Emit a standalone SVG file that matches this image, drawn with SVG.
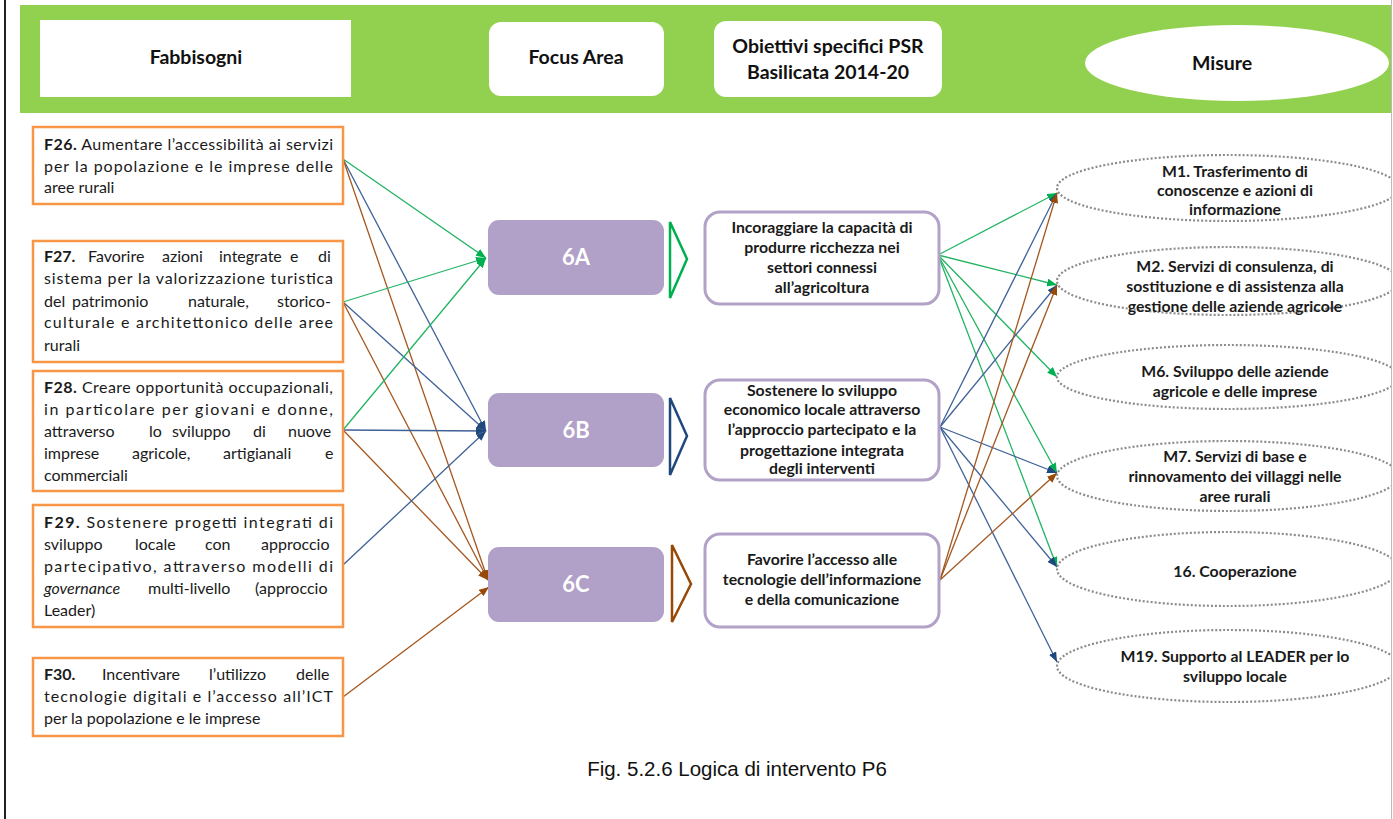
<svg xmlns="http://www.w3.org/2000/svg" width="1393" height="819" viewBox="0 0 1393 819">
<defs>
<style>
.ft{font-family:Lato,"Liberation Sans",sans-serif;font-size:16px;fill:#1a1a1a}
.b{font-weight:bold}
.hd{font-family:Lato,"Liberation Sans",sans-serif;font-size:19.5px;font-weight:bold;fill:#111;text-anchor:middle}
.ob{font-family:Lato,"Liberation Sans",sans-serif;font-size:15.8px;font-weight:bold;fill:#1a1a1a;text-anchor:middle}
.fa{font-family:Lato,"Liberation Sans",sans-serif;font-size:22px;font-weight:bold;fill:#fff;text-anchor:middle}
.fbox{fill:#fff;stroke:#F79646;stroke-width:2.5}
.pbox{fill:#B1A0C7}
.obox{fill:#fff;stroke:#B3A2C7;stroke-width:3}
.mel{fill:#fff;stroke:#8c8c8c;stroke-width:2.2;stroke-dasharray:2 2}
.g{stroke:#22B463;stroke-width:1.3;fill:none;marker-end:url(#ag)}
.bl{stroke:#3F6298;stroke-width:1.3;fill:none;marker-end:url(#ab)}
.br{stroke:#A3571F;stroke-width:1.3;fill:none;marker-end:url(#ar)}
</style>
<marker id="ag" viewBox="0 0 10 8" refX="10" refY="4" markerWidth="10" markerHeight="8" markerUnits="userSpaceOnUse" orient="auto"><path d="M0,0 L10,4 L0,8 Z" fill="#00B050"/></marker>
<marker id="ab" viewBox="0 0 10 8" refX="10" refY="4" markerWidth="10" markerHeight="8" markerUnits="userSpaceOnUse" orient="auto"><path d="M0,0 L10,4 L0,8 Z" fill="#1F497D"/></marker>
<marker id="ar" viewBox="0 0 10 8" refX="10" refY="4" markerWidth="10" markerHeight="8" markerUnits="userSpaceOnUse" orient="auto"><path d="M0,0 L10,4 L0,8 Z" fill="#984807"/></marker>
<clipPath id="clip"><rect x="0" y="0" width="1391" height="819"/></clipPath>
</defs>
<rect width="1393" height="819" fill="#fff"/>
<line x1="5" y1="0" x2="5" y2="819" stroke="#222" stroke-width="2"/>
<line x1="1391.5" y1="0" x2="1391.5" y2="819" stroke="#bbb" stroke-width="1"/>

<g clip-path="url(#clip)">
<g id="header">
<rect x="20" y="5" width="1373" height="108" fill="#92D050"/>
<rect x="40" y="20" width="311" height="77" fill="#fff"/>
<text class="hd" x="196" y="64">Fabbisogni</text>
<rect x="489" y="22" width="175" height="74" rx="12" fill="#fff"/>
<text class="hd" x="576" y="64">Focus Area</text>
<rect x="714" y="21" width="228" height="76" rx="12" fill="#fff"/>
<text class="hd" x="828" y="53">Obiettivi specifici PSR</text>
<text class="hd" x="828" y="79">Basilicata 2014-20</text>
<ellipse cx="1237" cy="63" rx="152" ry="38" fill="#fff"/>
<text class="hd" x="1222" y="70">Misure</text>
</g>

<g id="connectors">
<line class="g" x1="343" y1="159" x2="486" y2="258"/>
<line class="bl" x1="343" y1="159" x2="486" y2="431"/>
<line class="br" x1="343" y1="159" x2="488" y2="580"/>
<line class="g" x1="343" y1="302" x2="486" y2="258"/>
<line class="bl" x1="343" y1="302" x2="486" y2="431"/>
<line class="br" x1="343" y1="302" x2="488" y2="580"/>
<line class="g" x1="343" y1="430" x2="486" y2="258"/>
<line class="bl" x1="343" y1="430" x2="486" y2="431"/>
<line class="br" x1="343" y1="430" x2="488" y2="580"/>
<line class="bl" x1="343" y1="565" x2="486" y2="431"/>
<line class="br" x1="343" y1="697" x2="489" y2="587"/>

<line class="g" x1="938" y1="255" x2="1057" y2="193"/>
<line class="g" x1="938" y1="255" x2="1057" y2="285"/>
<line class="g" x1="938" y1="255" x2="1057" y2="377"/>
<line class="g" x1="938" y1="255" x2="1057" y2="473"/>
<line class="g" x1="938" y1="255" x2="1057" y2="567"/>
<line class="bl" x1="940" y1="427" x2="1057" y2="193"/>
<line class="bl" x1="940" y1="427" x2="1057" y2="285"/>
<line class="bl" x1="940" y1="427" x2="1057" y2="473"/>
<line class="bl" x1="940" y1="427" x2="1057" y2="567"/>
<line class="bl" x1="940" y1="427" x2="1057" y2="662"/>
<line class="br" x1="940" y1="580" x2="1057" y2="193"/>
<line class="br" x1="940" y1="580" x2="1057" y2="285"/>
<line class="br" x1="940" y1="580" x2="1057" y2="473"/>
</g>

<g id="F26">
<rect class="fbox" x="33" y="127" width="310" height="77"/>
<text class="ft" x="44" y="150" textLength="289" lengthAdjust="spacing"><tspan class="b">F26.</tspan> Aumentare l’accessibilità ai servizi</text>
<text class="ft" x="44" y="172" textLength="289" lengthAdjust="spacing">per la popolazione e le imprese delle</text>
<text class="ft" x="44" y="193">aree rurali</text>
</g>
<g id="F27">
<rect class="fbox" x="33" y="241" width="310" height="121"/>
<text class="ft" x="44" y="262"><tspan class="b">F27.</tspan><tspan x="88">Favorire</tspan><tspan x="162">azioni</tspan><tspan x="219">integrate</tspan><tspan x="290">e</tspan><tspan x="318">di</tspan></text>
<text class="ft" x="44" y="284" textLength="289" lengthAdjust="spacing">sistema per la valorizzazione turistica</text>
<text class="ft" x="44" y="307">del<tspan x="72">patrimonio</tspan><tspan x="188">naturale,</tspan><tspan x="277">storico-</tspan></text>
<text class="ft" x="44" y="328" textLength="289" lengthAdjust="spacing">culturale e architettonico delle aree</text>
<text class="ft" x="44" y="351">rurali</text>
</g>
<g id="F28">
<rect class="fbox" x="33" y="371" width="310" height="120"/>
<text class="ft" x="44" y="393" textLength="289" lengthAdjust="spacing"><tspan class="b">F28.</tspan> Creare opportunità occupazionali,</text>
<text class="ft" x="44" y="415" textLength="289" lengthAdjust="spacing">in particolare per giovani e donne,</text>
<text class="ft" x="44" y="437">attraverso<tspan x="149">lo</tspan><tspan x="172">sviluppo</tspan><tspan x="253">di</tspan><tspan x="288">nuove</tspan></text>
<text class="ft" x="44" y="459">imprese<tspan x="132">agricole,</tspan><tspan x="223">artigianali</tspan><tspan x="325">e</tspan></text>
<text class="ft" x="44" y="481">commerciali</text>
</g>
<g id="F29">
<rect class="fbox" x="33" y="505" width="310" height="122"/>
<text class="ft" x="44" y="528" textLength="289" lengthAdjust="spacing"><tspan class="b">F29.</tspan> Sostenere progetti integrati di</text>
<text class="ft" x="44" y="550">sviluppo<tspan x="135">locale</tspan><tspan x="205">con</tspan><tspan x="261">approccio</tspan></text>
<text class="ft" x="44" y="572" textLength="289" lengthAdjust="spacing">partecipativo, attraverso modelli di</text>
<text class="ft" x="44" y="594"><tspan font-style="italic">governance</tspan><tspan x="148">multi-livello</tspan><tspan x="255">(approccio</tspan></text>
<text class="ft" x="44" y="616">Leader)</text>
</g>
<g id="F30">
<rect class="fbox" x="33" y="658" width="310" height="78"/>
<text class="ft" x="44" y="680"><tspan class="b">F30.</tspan><tspan x="102">Incentivare</tspan><tspan x="209">l’utilizzo</tspan><tspan x="296">delle</tspan></text>
<text class="ft" x="44" y="702" textLength="289" lengthAdjust="spacing">tecnologie digitali e l’accesso all’ICT</text>
<text class="ft" x="44" y="724">per la popolazione  e le imprese</text>
</g>

<g id="FA6A">
<rect class="pbox" x="488" y="220" width="176" height="75" rx="11"/>
<text class="fa" x="576" y="265">6A</text>
<polygon points="670,222 687,259 670,298" fill="none" stroke="#00B050" stroke-width="2.5"/>
</g>
<g id="FA6B">
<rect class="pbox" x="488" y="393" width="176" height="74" rx="11"/>
<text class="fa" x="576" y="438">6B</text>
<polygon points="670,398 687,436 670,475" fill="none" stroke="#1F497D" stroke-width="2.5"/>
</g>
<g id="FA6C">
<rect class="pbox" x="488" y="547" width="176" height="75" rx="11"/>
<text class="fa" x="576" y="592">6C</text>
<polygon points="672,545 691,584 672,622" fill="none" stroke="#984807" stroke-width="2.5"/>
</g>

<g id="OB1">
<rect class="obox" x="705" y="212" width="234" height="92" rx="15"/>
<text class="ob" x="822" y="233">Incoraggiare la capacità di</text>
<text class="ob" x="822" y="253">produrre ricchezza nei</text>
<text class="ob" x="822" y="273">settori connessi</text>
<text class="ob" x="822" y="293">all’agricoltura</text>
</g>
<g id="OB2">
<rect class="obox" x="705" y="380" width="234" height="100" rx="15"/>
<text class="ob" x="822" y="396">Sostenere lo sviluppo</text>
<text class="ob" x="822" y="415">economico locale attraverso</text>
<text class="ob" x="822" y="435">l’approccio partecipato e la</text>
<text class="ob" x="822" y="456">progettazione integrata</text>
<text class="ob" x="822" y="474">degli interventi</text>
</g>
<g id="OB3">
<rect class="obox" x="705" y="534" width="234" height="93" rx="15"/>
<text class="ob" x="822" y="565">Favorire l’accesso alle</text>
<text class="ob" x="822" y="585">tecnologie dell’informazione</text>
<text class="ob" x="822" y="605">e della comunicazione</text>
</g>

<g id="M1">
<ellipse class="mel" cx="1228" cy="188" rx="171" ry="33"/>
<text class="ob" x="1235" y="177">M1. Trasferimento di</text>
<text class="ob" x="1235" y="196">conoscenze e azioni di</text>
<text class="ob" x="1235" y="215">informazione</text>
</g>
<g id="M2">
<ellipse class="mel" cx="1228" cy="281" rx="171" ry="34"/>
<text class="ob" x="1235" y="272">M2.  Servizi di consulenza, di</text>
<text class="ob" x="1235" y="292">sostituzione e di assistenza alla</text>
<text class="ob" x="1235" y="312">gestione delle aziende agricole</text>
</g>
<g id="M6">
<ellipse class="mel" cx="1228" cy="377" rx="171" ry="32"/>
<text class="ob" x="1235" y="377">M6.  Sviluppo delle aziende</text>
<text class="ob" x="1235" y="397">agricole e delle imprese</text>
</g>
<g id="M7">
<ellipse class="mel" cx="1228" cy="476" rx="171" ry="35"/>
<text class="ob" x="1235" y="462">M7. Servizi di base e</text>
<text class="ob" x="1235" y="482">rinnovamento dei villaggi nelle</text>
<text class="ob" x="1235" y="502">aree rurali</text>
</g>
<g id="M16">
<ellipse class="mel" cx="1228" cy="569" rx="171" ry="37"/>
<text class="ob" x="1235" y="577">16. Cooperazione</text>
</g>
<g id="M19">
<ellipse class="mel" cx="1228" cy="666" rx="171" ry="36"/>
<text class="ob" x="1235" y="662">M19. Supporto al LEADER per lo</text>
<text class="ob" x="1235" y="682">sviluppo locale</text>
</g>
</g>

<text x="737" y="776" font-family="'Liberation Sans',Arial,sans-serif" font-size="20.5" fill="#111" text-anchor="middle">Fig. 5.2.6 Logica di intervento P6</text>
</svg>
